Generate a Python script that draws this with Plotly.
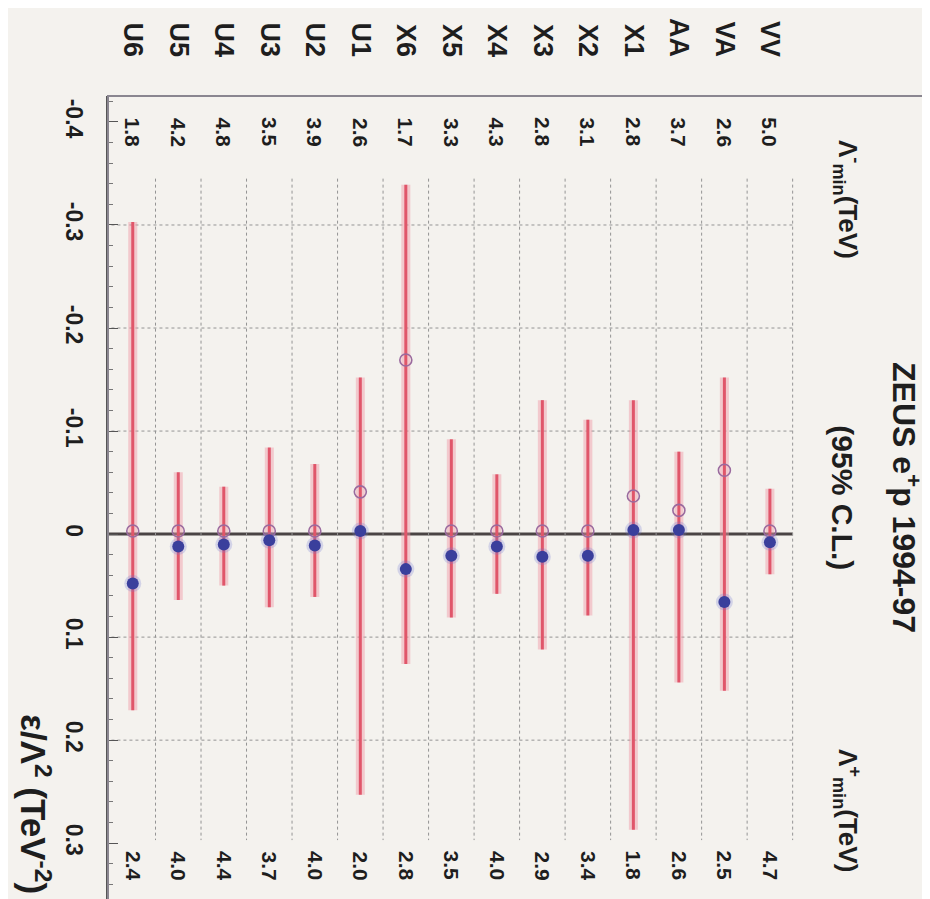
import plotly.graph_objects as go

# ---- data ----
categories = ["U6", "U5", "U4", "U3", "U2", "U1", "X6", "X5", "X4", "X3", "X2", "X1", "AA", "VA", "VV"]
lam_minus = [1.8, 4.2, 4.8, 3.5, 3.9, 2.6, 1.7, 3.3, 4.3, 2.8, 3.1, 2.8, 3.7, 2.6, 5.0]
lam_plus = [2.4, 4.0, 4.4, 3.7, 4.0, 2.0, 2.8, 3.5, 4.0, 2.9, 3.4, 1.8, 2.6, 2.5, 4.7]
range_low = [-0.303, -0.060, -0.046, -0.084, -0.068, -0.152, -0.339, -0.092, -0.058, -0.130,
             -0.111, -0.130, -0.080, -0.152, -0.044]
range_high = [0.171, 0.064, 0.050, 0.071, 0.061, 0.253, 0.126, 0.081, 0.058, 0.112,
              0.079, 0.287, 0.144, 0.152, 0.039]
open_vals = [-0.003, -0.003, -0.003, -0.003, -0.003, -0.041, -0.169, -0.003, -0.003, -0.003,
             -0.003, -0.037, -0.023, -0.062, -0.003]
filled_vals = [0.048, 0.012, 0.010, 0.006, 0.011, -0.003, 0.034, 0.021, 0.012, 0.022,
               0.021, -0.004, -0.004, 0.066, 0.008]
value_ticks = [-0.4, -0.3, -0.2, -0.1, 0.0, 0.1, 0.2, 0.3]
value_tick_labels = ["-0.4", "-0.3", "-0.2", "-0.1", "0", "0.1", "0.2", "0.3"]

FONT = "Liberation Sans"
TXT = "#1e1e1e"
BG = "#f4f2ee"

idx = list(range(len(categories)))

# red 95% C.L. ranges
lx, ly = [], []
for i, lo, hi in zip(idx, range_low, range_high):
    lx += [i, i, None]
    ly += [lo, hi, None]

fig = go.Figure()
fig.add_trace(go.Scatter(x=lx, y=ly, mode="lines", line=dict(color="rgba(240,150,165,0.45)", width=9),
                         hoverinfo="skip", showlegend=False))
fig.add_trace(go.Scatter(x=lx, y=ly, mode="lines", line=dict(color="#e0566a", width=3),
                         hoverinfo="skip", showlegend=False))

# zero line
fig.add_shape(type="line", xref="x", yref="y", x0=-0.6, x1=len(categories) - 0.5, y0=0, y1=0,
              line=dict(color="#4a4444", width=3), layer="below")

# open circles
fig.add_trace(go.Scatter(x=idx, y=open_vals, mode="markers",
                         marker=dict(symbol="circle-open", size=12, color="#9a6a9e", line=dict(width=1.6)),
                         showlegend=False))
# filled circles (with soft halo)
fig.add_trace(go.Scatter(x=idx, y=filled_vals, mode="markers",
                         marker=dict(symbol="circle", size=17, color="rgba(110,120,210,0.25)", line=dict(width=0)),
                         hoverinfo="skip", showlegend=False))
fig.add_trace(go.Scatter(x=idx, y=filled_vals, mode="markers",
                         marker=dict(symbol="circle", size=12, color="#3a3f9c", line=dict(width=0)),
                         showlegend=False))

# grid lines (dotted)
y_top, y_bot = -0.345, 0.297
for k in range(len(categories)):
    fig.add_shape(type="line", xref="x", yref="y", x0=k + 0.5, x1=k + 0.5, y0=y_top, y1=y_bot,
                  line=dict(color="#949494", width=1, dash="dot"), layer="below")
for v in [-0.3, -0.2, -0.1, 0.1, 0.2]:
    fig.add_shape(type="line", xref="x", yref="y", x0=-0.6, x1=len(categories) - 0.5, y0=v, y1=v,
                  line=dict(color="#949494", width=1, dash="dot"), layer="below")

# frame
fig.add_shape(type="rect", xref="paper", yref="paper", x0=0, x1=1, y0=0, y1=1,
              line=dict(color="#8a8690", width=2), layer="above")

annotations = []
for i, lm, lp in zip(idx, lam_minus, lam_plus):
    annotations.append(dict(x=i, y=-0.39, xref="x", yref="y", text=f"{lm:.1f}", showarrow=False,
                            textangle=90, font=dict(family=FONT, size=21, color=TXT, weight="bold")))
    annotations.append(dict(x=i, y=0.322, xref="x", yref="y", text=f"{lp:.1f}", showarrow=False,
                            textangle=90, font=dict(family=FONT, size=21, color=TXT, weight="bold")))

annotations += [
    dict(x=15.7, y=-0.325, xref="x", yref="y", text="Λ<sup>-</sup><sub>min</sub>(TeV)", showarrow=False,
         textangle=90, font=dict(family=FONT, size=26, color=TXT, weight="bold")),
    dict(x=15.7, y=0.268, xref="x", yref="y", text="Λ<sup>+</sup><sub>min</sub>(TeV)", showarrow=False,
         textangle=90, font=dict(family=FONT, size=26, color=TXT, weight="bold")),
    dict(x=15.6, y=-0.035, xref="x", yref="y", text="(95% C.L.)", showarrow=False,
         textangle=90, font=dict(family=FONT, size=30, color=TXT, weight="bold")),
    dict(x=16.99, y=-0.035, xref="x", yref="y", text="ZEUS e<sup>+</sup>p 1994-97", showarrow=False,
         textangle=90, font=dict(family=FONT, size=32, color=TXT, weight="bold")),
    dict(x=-0.088, y=0.125, xref="paper", yref="paper", xanchor="center", yanchor="middle",
         text="ε/Λ<sup>2</sup> (TeV<sup>-2</sup>)",
         showarrow=False, textangle=90, font=dict(family=FONT, size=35, color=TXT, weight="bold")),
]

fig.update_layout(
    width=930, height=899,
    margin=dict(l=100, r=7, t=88, b=2),
    paper_bgcolor=BG, plot_bgcolor=BG,
    showlegend=False,
    annotations=annotations,
    xaxis=dict(range=[-0.544, 17.54], side="top", tickmode="array", tickvals=idx, ticktext=categories,
               tickangle=90, ticks="", showgrid=False, zeroline=False, showline=False,
               ticklabelstandoff=34,
               tickfont=dict(family=FONT, size=27, color=TXT, weight="bold")),
    yaxis=dict(range=[0.360, -0.4252], tickmode="array", tickvals=value_ticks, ticktext=value_tick_labels,
               tickangle=90, ticks="inside", ticklen=10, tickcolor="#555", tickwidth=1,
               minor=dict(dtick=0.02, ticks="inside", ticklen=5, tickcolor="#777", showgrid=False),
               showgrid=False, zeroline=False, showline=True, linecolor="#555", linewidth=2,
               ticklabelstandoff=12,
               tickfont=dict(family=FONT, size=23, color=TXT, weight="bold")),
)

fig.write_html("out.html")
